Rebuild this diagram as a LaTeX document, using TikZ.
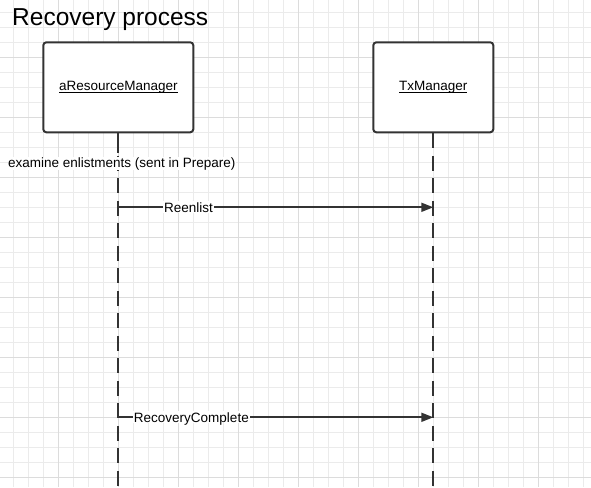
\documentclass[tikz,border=0pt]{standalone}
\usepackage{fontspec}
\setmainfont{Liberation Sans}
\usetikzlibrary{arrows.meta}
\definecolor{ln}{HTML}{333333}
\definecolor{gminor}{HTML}{EBEBEB}
\definecolor{gmajor}{HTML}{DCDCDC}
\newcommand\myul[1]{{\setbox0\hbox{#1}\rlap{\rule[-2.2pt]{\wd0}{0.9pt}}\box0}}
\begin{document}
\begin{tikzpicture}[x=1pt,y=-1pt,
  objbox/.style={draw=ln, line width=2pt, rounded corners=3pt, fill=white,
    font=\fontsize{13.5}{16}\selectfont, text=black, text height=10pt, text depth=3pt},
  lifeline/.style={draw=ln, line width=2pt, dash pattern=on 15pt off 7.5pt},
  solidline/.style={draw=ln, line width=2pt},
  msg/.style={draw=ln, line width=1.8pt, -{Triangle[length=12pt,width=9pt]}},
  lbl/.style={font=\fontsize{13.5}{16}\selectfont, text=black, fill=white, inner sep=1pt},
  msglbl/.style={lbl, text height=9.8pt, text depth=0pt},
  titlestyle/.style={font=\fontsize{24.5}{28}\selectfont, text=black, inner sep=0pt}]
\useasboundingbox (0,0) rectangle (591,487);
\fill[white] (0,0) rectangle (591,487);
% grid
\foreach \x in {13.3,28.3,...,591} \draw[gminor, line width=1pt] (\x,0) -- (\x,487);
\foreach \y in {12.3,27.3,...,487} \draw[gminor, line width=1pt] (0,\y) -- (591,\y);
\foreach \x in {58.3,118.3,...,591} \draw[gmajor, line width=1pt] (\x,0) -- (\x,487);
\foreach \y in {57.3,117.3,...,487} \draw[gmajor, line width=1pt] (0,\y) -- (591,\y);
% title
\node[titlestyle, anchor=base west] (title) at (12,26) {Recovery process};
% objects
\node[objbox, minimum width=150pt, minimum height=90pt] (rm) at (118.3,87.3) {\myul{aResourceManager}};
\node[objbox, minimum width=120pt, minimum height=90pt] (tx) at (433.3,87.3) {\myul{TxManager}};
% lifeline ends
\coordinate (rmend) at (118.3,490);
\coordinate (txend) at (433.3,490);
\coordinate (rmtop) at (118.3,153);
\draw[lifeline] (rm.south) -- (rmend);
\draw[lifeline] (tx.south) -- (txend);
\draw[solidline] (rm.south) -- (rmtop);
\node[lbl, anchor=base, inner sep=0.5pt] (exam) at (121.7,167) {examine enlistments (sent in Prepare)};
% messages
\coordinate (m1s) at (118.3,207.3);
\coordinate (m1e) at (433.3,207.3);
\coordinate (m2s) at (118.3,417.3);
\coordinate (m2e) at (433.3,417.3);
\draw[msg] (m1s) -- (m1e) node[msglbl, pos=0.223] (l1) {Reenlist};
\draw[msg] (m2s) -- (m2e) node[msglbl, pos=0.232] (l2) {RecoveryComplete};
\end{tikzpicture}
\end{document}
